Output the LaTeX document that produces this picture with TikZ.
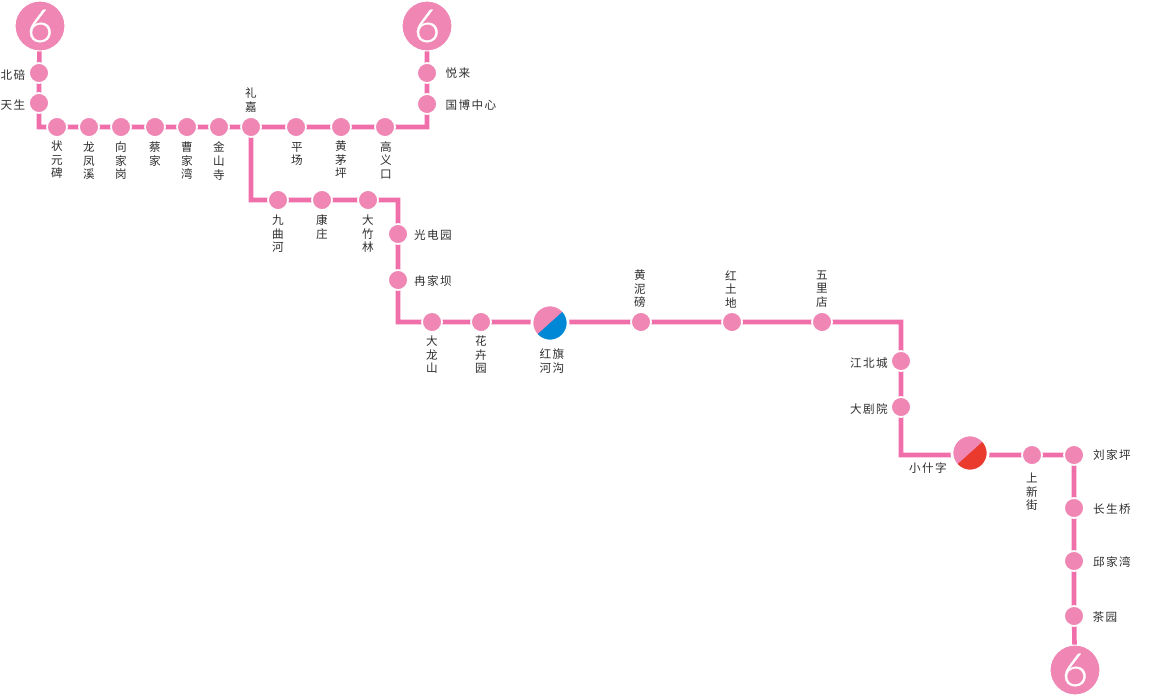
\documentclass[tikz,border=0pt]{standalone}
\usepackage{fontspec}
\usetikzlibrary{backgrounds}
\newfontfamily\cjk{Noto Sans CJK SC}
\newfontfamily\cjkwide[LetterSpace=12]{Noto Sans CJK SC}
\newfontfamily\sixfont[FakeBold=0.6]{Lato Light}
\definecolor{linepink}{HTML}{F06EAA}
\definecolor{stpink}{HTML}{EF86B3}
\definecolor{xblue}{HTML}{0088D6}
\definecolor{xred}{HTML}{EA3A2D}
\tikzset{
  stn/.style={circle,fill=stpink,draw=white,line width=1pt,minimum size=20*0.02cm,inner sep=0pt},
  term/.style={circle,fill=stpink,draw=white,line width=0.6pt,minimum size=50*0.02cm,inner sep=0pt,text=white,font=\sixfont\fontsize{26}{26}\selectfont},
  xfer/.style={circle,fill=stpink,draw=white,line width=1.6pt,minimum size=36.2*0.02cm,inner sep=0pt},
  route/.style={draw=linepink,line width=2.6pt},
  vlab/.style={inner sep=0pt,align=center,text=black!82,font=\cjk\fontsize{6.6}{7.7}\selectfont},
  hlab/.style={inner sep=0pt,text=black!82,font=\cjkwide\fontsize{6.6}{7.7}\selectfont}
}
\begin{document}
\begin{tikzpicture}[x=0.02cm,y=-0.02cm]
\useasboundingbox (0,0) rectangle (1149,696);
% terminals
\node[term] (t1) at (40,26) {6};
\node[term] (t2) at (427,26) {6};
\node[term] (t3) at (1075,670) {6};
% stations
\node[stn] (a1) at (39,73) {};
\node[stn] (a2) at (39,103) {};
\node[stn] (a3) at (57,127) {};
\node[stn] (a4) at (89,127) {};
\node[stn] (a5) at (121,127) {};
\node[stn] (a6) at (155,127) {};
\node[stn] (a7) at (187,127) {};
\node[stn] (a8) at (219,127) {};
\node[stn] (a9) at (251,127) {};
\node[stn] (b1) at (296,127) {};
\node[stn] (b2) at (341,127) {};
\node[stn] (b3) at (385,127) {};
\node[stn] (b4) at (427,104) {};
\node[stn] (b5) at (427,73) {};
\node[stn] (c1) at (278,200) {};
\node[stn] (c2) at (322,200) {};
\node[stn] (c3) at (368,200) {};
\node[stn] (c4) at (398,234) {};
\node[stn] (c5) at (398,280) {};
\node[stn] (c6) at (432,322) {};
\node[stn] (c7) at (481,322) {};
\node[xfer,path picture={\fill[xblue] (path picture bounding box.center) ++(-42:30) -- ++(138:60) -- ++(48:30) -- ++(-42:60) -- cycle;}] (h1) at (550,323) {};
\coordinate (h1line) at (550,322);
\node[stn] (d1) at (641,322) {};
\node[stn] (d2) at (732,322) {};
\node[stn] (d3) at (822,322) {};
\node[stn] (d4) at (901,361) {};
\node[stn] (d5) at (901,407) {};
\node[xfer,path picture={\fill[xred] (path picture bounding box.center) ++(-42:30) -- ++(138:60) -- ++(48:30) -- ++(-42:60) -- cycle;}] (h2) at (970,453) {};
\coordinate (h2line) at (970,455);
\node[stn] (e1) at (1032,455) {};
\node[stn] (e2) at (1074,455) {};
\node[stn] (e3) at (1074,508) {};
\node[stn] (e4) at (1074,561) {};
\node[stn] (e5) at (1074,616) {};
% routes
\begin{pgfonlayer}{background}
\draw[route] (t1.center) -- (a1.center) -- (a2.center) |- (a3.center) -- (a4.center) -- (a5.center) -- (a6.center) -- (a7.center) -- (a8.center) -- (a9.center) -- (b1.center) -- (b2.center) -- (b3.center) -| (b4.center) -- (b5.center) -- (t2.center);
\draw[route] (a9.center) |- (c1.center) -- (c2.center) -- (c3.center) -| (c4.center) -- (c5.center) |- (c6.center) -- (c7.center) -- (h1line) -- (d1.center) -- (d2.center) -- (d3.center) -| (d4.center) -- (d5.center) |- (h2line) -- (e1.center) -- (e2.center) -- (e3.center) -- (e4.center) -- (e5.center) -- (t3.center);
\end{pgfonlayer}
% vertical labels
\node[vlab] (l3) at (57,160) {状\\元\\碑};
\node[vlab] (l4) at (89,161) {龙\\凤\\溪};
\node[vlab] (l5) at (121,161) {向\\家\\岗};
\node[vlab] (l6) at (155,154) {蔡\\家};
\node[vlab] (l7) at (187,161) {曹\\家\\湾};
\node[vlab] (l8) at (219,161) {金\\山\\寺};
\node[vlab] (l9) at (251,100) {礼\\嘉};
\node[vlab] (m1) at (297,154) {平\\场};
\node[vlab] (m2) at (341,160) {黄\\茅\\坪};
\node[vlab] (m3) at (386,160) {高\\义\\口};
\node[vlab] (n1) at (278,234) {九\\曲\\河};
\node[vlab] (n2) at (322,227) {康\\庄};
\node[vlab] (n3) at (368,234) {大\\竹\\林};
\node[vlab] (n6) at (432,355) {大\\龙\\山};
\node[vlab] (n7) at (481,355) {花\\卉\\园};
\node[hlab,align=center] (hl1) at (552,361) {红旗\\河沟};
\node[vlab] (o1) at (640,289) {黄\\泥\\磅};
\node[vlab] (o2) at (731,289) {红\\土\\地};
\node[vlab] (o3) at (822,289) {五\\里\\店};
\node[vlab] (p1) at (1032,492) {上\\新\\街};
% horizontal labels
\node[hlab] (l1) at (13,75) {北碚};
\node[hlab] (l2) at (13,105) {天生};
\node[hlab] (m5) at (458,73) {悦来};
\node[hlab] (m4) at (471,105) {国博中心};
\node[hlab] (n4) at (433,235) {光电园};
\node[hlab] (n5) at (433,281) {冉家坝};
\node[hlab] (o4) at (869,363) {江北城};
\node[hlab] (o5) at (869,409) {大剧院};
\node[hlab] (hl2) at (928,468) {小什字};
\node[hlab] (p2) at (1112,455) {刘家坪};
\node[hlab] (p3) at (1112,509) {长生桥};
\node[hlab] (p4) at (1112,562) {邱家湾};
\node[hlab] (p5) at (1105,617) {茶园};
\end{tikzpicture}
\end{document}
